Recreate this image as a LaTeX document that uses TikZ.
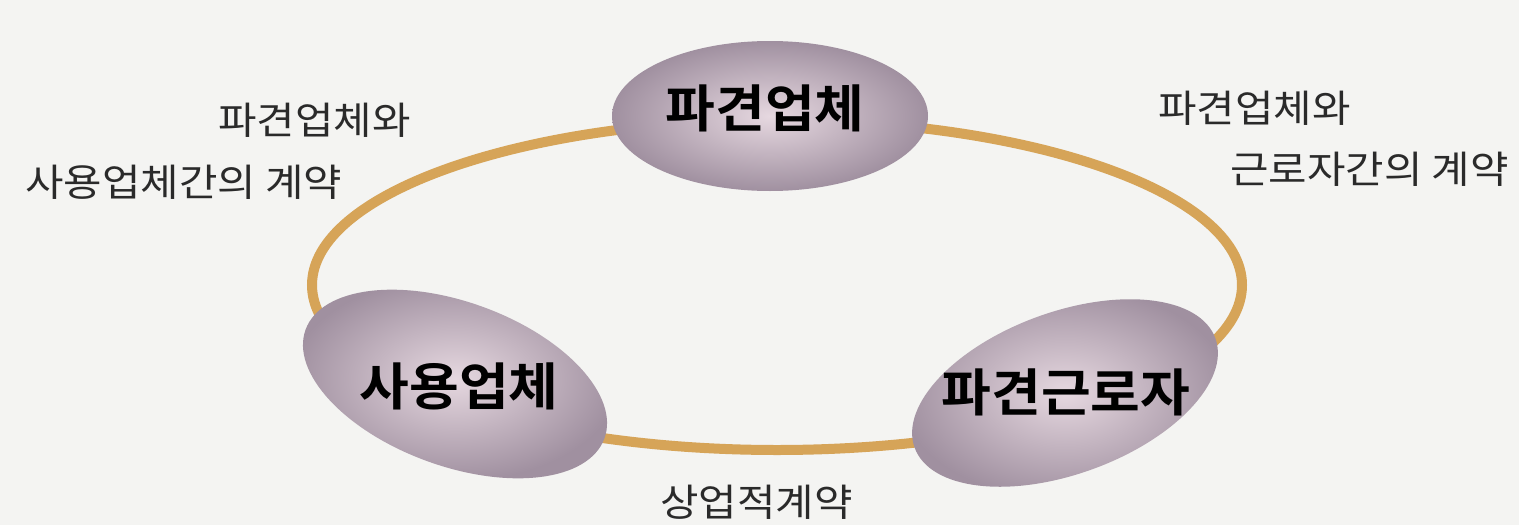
\documentclass[tikz,border=0pt]{standalone}
\usepackage{fontspec}
\newfontfamily\kr[FakeStretch=1.1]{Noto Sans CJK KR}
\newfontfamily\krb[FakeStretch=1.06]{Noto Sans CJK KR Bold}
\usetikzlibrary{shapes.geometric}
\definecolor{bg}{HTML}{F4F4F2}
\definecolor{ring}{HTML}{D6A458}
\definecolor{blobin}{HTML}{E6D8E0}
\definecolor{blobout}{HTML}{A090A0}
\definecolor{txt}{HTML}{2A2A2A}
\begin{document}
\begin{tikzpicture}[x=1pt,y=-1pt,
  blob/.style={ellipse, inner sep=0pt, shading=radial, inner color=blobin, outer color=blobout},
  bigtext/.style={font=\krb\fontsize{51}{55}\selectfont, text=black, inner sep=0pt},
  smalltext/.style={font=\kr\fontsize{38}{42}\selectfont, text=txt, inner sep=0pt, anchor=west}]
\fill[bg] (0,0) rectangle (1519,525);
\useasboundingbox (0,0) rectangle (1519,525);
\draw[ring, line width=10pt] (777,285) ellipse [x radius=465pt, y radius=165pt];
\node[blob, minimum width=316pt, minimum height=150pt] (disp) at (770,116) {};
\node[blob, minimum width=318pt, minimum height=164pt, rotate=-20] (user) at (455,384) {};
\node[blob, minimum width=320pt, minimum height=162pt, rotate=20] (worker) at (1065,393) {};
\node[bigtext] (tdisp) at (765,108) {파견업체};
\node[bigtext] (tuser) at (459,386) {사용업체};
\node[bigtext] (tworker) at (1066,392) {파견근로자};
\node[smalltext] (l1) at (218,120) {파견업체와};
\node[smalltext] (l2) at (25,182) {사용업체간의 계약};
\node[smalltext] (r1) at (1158,108) {파견업체와};
\node[smalltext] (r2) at (1230,169) {근로자간의 계약};
\node[smalltext] (b1) at (660,502) {상업적계약};
\end{tikzpicture}
\end{document}
